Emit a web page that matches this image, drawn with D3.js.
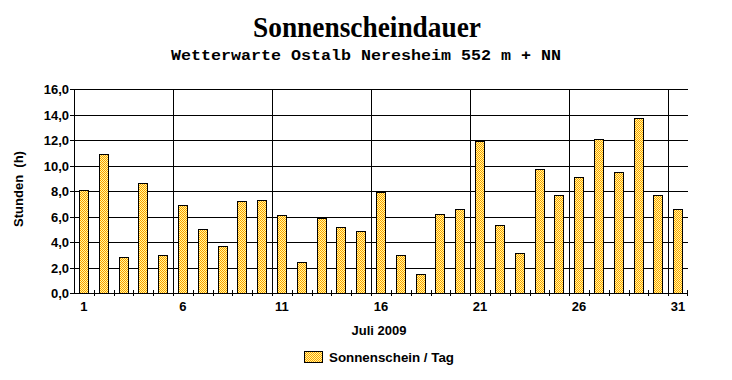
<!DOCTYPE html>
<html>
<head>
<meta charset="utf-8">
<script src="https://cdn.jsdelivr.net/npm/d3@7"></script>
<style>
  body { margin: 0; background: #fff; }
  svg { display: block; }
  text { font-family: "Liberation Sans", Arial, sans-serif; font-weight: bold; fill: #000; }
</style>
</head>
<body>
<div id="chart"></div>
<script>
const days = d3.range(1, 32);
const sunHours = [8.1, 10.9, 2.8, 8.6, 3.0, 6.9, 5.0, 3.7, 7.2, 7.3,
                  6.1, 2.4, 5.9, 5.2, 4.85, 7.9, 3.0, 1.5, 6.2, 6.6,
                  11.9, 5.3, 3.1, 9.7, 7.7, 9.1, 12.1, 9.5, 13.7, 7.7, 6.6];
const dayLabels = [1, 6, 11, 16, 21, 26, 31];
const yTicks = [0, 2, 4, 6, 8, 10, 12, 14, 16];

const width = 732, height = 380;
const plotLeft = 74, plotRight = 688, plotTop = 89, plotBottom = 293;

const svg = d3.select("#chart").append("svg")
    .attr("width", width)
    .attr("height", height);

// checker pattern for the bars
const pat = svg.append("defs").append("pattern")
    .attr("id", "checker")
    .attr("width", 2).attr("height", 2)
    .attr("patternUnits", "userSpaceOnUse");
pat.append("rect").attr("width", 2).attr("height", 2).attr("fill", "#ffff99");
pat.append("rect").attr("width", 1).attr("height", 1).attr("fill", "#ff9900");
pat.append("rect").attr("x", 1).attr("y", 1).attr("width", 1).attr("height", 1).attr("fill", "#ff9900");

const x = d3.scaleBand().domain(days).range([plotLeft, plotRight]).padding(0);
const y = d3.scaleLinear().domain([0, 16]).range([plotBottom, plotTop]);

// titles
svg.append("text")
    .attr("transform", "translate(367,37) scale(1,1.12)")
    .attr("text-anchor", "middle")
    .style("font-family", "'Liberation Serif', 'Times New Roman', serif")
    .style("font-size", "26px")
    .attr("textLength", 228)
    .attr("lengthAdjust", "spacingAndGlyphs")
    .text("Sonnenscheindauer");

svg.append("text")
    .attr("x", 366).attr("y", 60)
    .attr("text-anchor", "middle")
    .style("font-family", "'Liberation Mono', 'Courier New', monospace")
    .style("font-size", "14px")
    .attr("textLength", 390)
    .attr("lengthAdjust", "spacingAndGlyphs")
    .text("Wetterwarte Ostalb Neresheim 552 m + NN");

// horizontal grid + y ticks
svg.append("g").selectAll("line")
    .data(yTicks)
    .enter().append("line")
        .attr("x1", plotLeft - 4).attr("x2", plotRight)
        .attr("y1", d => Math.round(y(d)) + 0.5)
        .attr("y2", d => Math.round(y(d)) + 0.5)
        .attr("stroke", "#000");

svg.append("g").selectAll("text")
    .data(yTicks)
    .enter().append("text")
        .attr("x", plotLeft - 5)
        .attr("y", d => y(d) + 5)
        .attr("text-anchor", "end")
        .style("font-size", "13px")
        .text(d => d.toFixed(1).replace(".", ","));

// vertical grid lines at every 5th day
svg.append("g").selectAll("line")
    .data(dayLabels.slice(1))
    .enter().append("line")
        .attr("x1", d => Math.round(x(d)) + 0.5)
        .attr("x2", d => Math.round(x(d)) + 0.5)
        .attr("y1", plotTop).attr("y2", plotBottom)
        .attr("stroke", "#000");

// small ticks at each day boundary
svg.append("g").selectAll("line")
    .data(days.slice(1).concat([32]))
    .enter().append("line")
        .attr("x1", d => Math.round(d === 32 ? plotRight - 1 : x(d)) + 0.5)
        .attr("x2", d => Math.round(d === 32 ? plotRight - 1 : x(d)) + 0.5)
        .attr("y1", plotBottom - 3).attr("y2", plotBottom + 3)
        .attr("stroke", "#000");

// bars
svg.append("g").selectAll("rect")
    .data(sunHours)
    .enter().append("rect")
        .attr("x", (d, i) => Math.round(x(days[i]) + x.bandwidth() * 0.25) + 0.5)
        .attr("y", d => Math.round(y(d)) + 0.5)
        .attr("width", Math.round(x.bandwidth() * 0.5) - 1)
        .attr("height", d => Math.round(y(0)) - Math.round(y(d)))
        .attr("fill", "url(#checker)")
        .attr("stroke", "#000");

// axis lines
svg.append("line")
    .attr("x1", plotLeft + 0.5).attr("x2", plotLeft + 0.5)
    .attr("y1", plotTop).attr("y2", plotBottom + 1)
    .attr("stroke", "#000");
svg.append("line")
    .attr("x1", plotLeft).attr("x2", plotRight)
    .attr("y1", plotBottom + 0.5).attr("y2", plotBottom + 0.5)
    .attr("stroke", "#000");

// x labels
svg.append("g").selectAll("text")
    .data(dayLabels)
    .enter().append("text")
        .attr("x", d => x(d) + x.bandwidth() / 2)
        .attr("y", 311)
        .attr("text-anchor", "middle")
        .style("font-size", "13px")
        .text(d => d);

svg.append("text")
    .attr("x", 379).attr("y", 335)
    .attr("text-anchor", "middle")
    .style("font-size", "13px")
    .text("Juli 2009");

svg.append("text")
    .attr("transform", "translate(23,189) rotate(-90)")
    .attr("text-anchor", "middle")
    .style("font-size", "13px")
    .attr("xml:space", "preserve")
    .text("Stunden  (h)");

// legend
svg.append("rect")
    .attr("x", 304.5).attr("y", 351.5)
    .attr("width", 18).attr("height", 11)
    .attr("fill", "url(#checker)")
    .attr("stroke", "#000");
svg.append("text")
    .attr("x", 329).attr("y", 362)
    .style("font-size", "13px")
    .attr("textLength", 125)
    .attr("lengthAdjust", "spacingAndGlyphs")
    .text("Sonnenschein / Tag");
</script>
</body>
</html>
